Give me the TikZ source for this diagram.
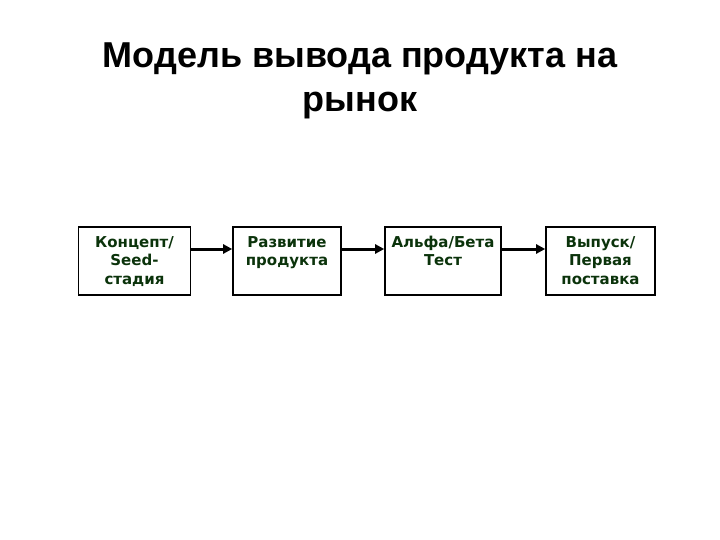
\documentclass[tikz,border=0pt]{standalone}
\usepackage{fontspec}
\setmainfont{Liberation Sans}
\newfontfamily\boxfont{DejaVu Sans}
\usetikzlibrary{arrows.meta}
\definecolor{boxtext}{HTML}{0B330B}
\newcommand{\firstline}{\vphantom{фБ/}}
\tikzset{
  box/.style={draw=black, line width=1.6pt, minimum height=68pt, inner sep=0pt},
  boxlabel/.style={anchor=north, align=center, inner sep=0pt, text=boxtext,
    font=\boxfont\bfseries\fontsize{15}{18.5}\selectfont},
  arr/.style={line width=3pt, -{Triangle[length=9pt,width=9pt]}},
  titletext/.style={align=center, font=\bfseries\fontsize{36}{44}\selectfont}
}
\begin{document}
\begin{tikzpicture}[x=1pt,y=-1pt]
\fill[white] (0,0) rectangle (720,540);
\useasboundingbox (0,0) rectangle (720,540);
\node[titletext] (title) at (360,81) {Модель вывода продукта на\\рынок};
\node[box, minimum width=112pt] (b1) at (134.5,261) {};
\node[box, minimum width=108pt] (b2) at (287,261) {};
\node[box, minimum width=116pt] (b3) at (443,261) {};
\node[box, minimum width=109pt] (b4) at (600.5,261) {};
\node[boxlabel] (t1) at ([yshift=-9.5pt]b1.north) {\firstline Концепт/\\Seed-\\стадия};
\node[boxlabel] (t2) at ([yshift=-9.5pt]b2.north) {\firstline Развитие\\продукта};
\node[boxlabel] (t3) at ([yshift=-9.5pt]b3.north) {\firstline Альфа/Бета\\Тест};
\node[boxlabel] (t4) at ([yshift=-9.5pt]b4.north) {\firstline Выпуск/\\Первая\\поставка};
\draw[arr] ([yshift=12pt]b1.east) -- ([yshift=12pt]b2.west);
\draw[arr] ([yshift=12pt]b2.east) -- ([yshift=12pt]b3.west);
\draw[arr] ([yshift=12pt]b3.east) -- ([yshift=12pt]b4.west);
\end{tikzpicture}
\end{document}
